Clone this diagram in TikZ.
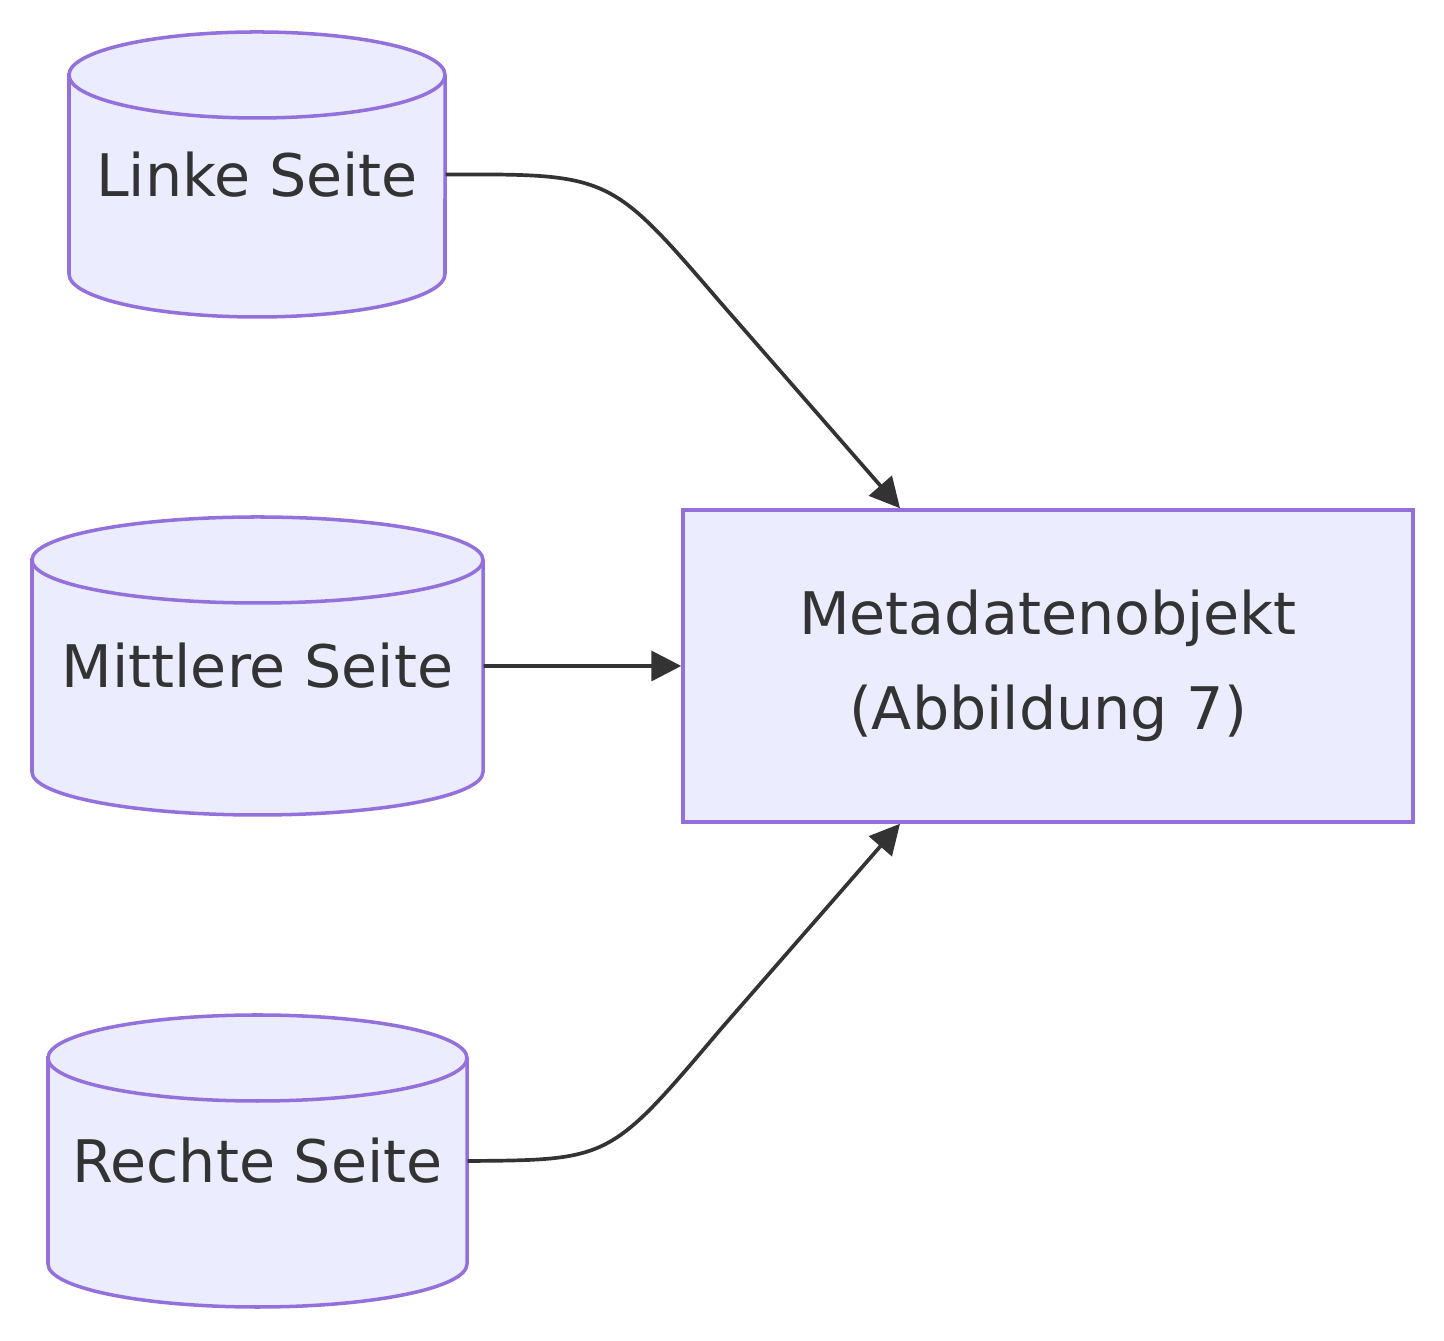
\documentclass[tikz,border=0pt]{standalone}
\usepackage{fontspec}
\setmainfont{DejaVu Sans}
\usetikzlibrary{arrows.meta,calc}
\definecolor{dbfill}{HTML}{ECECFF}
\definecolor{dbline}{HTML}{9370DB}
\definecolor{ink}{HTML}{333333}
\begin{document}
\begin{tikzpicture}[>={Triangle[length=0.3cm,width=0.3cm]},
    txt/.style={text=ink, font=\fontsize{16.7pt}{27pt}\selectfont, align=center},
    pfeil/.style={->, draw=ink, line width=1.05pt}]
    \useasboundingbox (0,0) rectangle (14.44,13.40);
    % Halbachse der Ellipsen
    \def\ry{0.43}

    % --- die drei Seiten als Zylinder ---
    \foreach \n/\xa/\xb/\yo/\yu/\t in {links/0.69/4.45/13.08/10.23/Linke Seite,
        mitte/0.32/4.83/8.23/5.25/Mittlere Seite,
        rechts/0.48/4.67/3.25/0.33/Rechte Seite} {
      \pgfmathsetmacro{\rx}{(\xb-\xa)/2}
      \filldraw[fill=dbfill, draw=dbline, line width=1pt]
        (\xa,\yo-\ry) -- (\xa,\yu+\ry)
        arc[start angle=180, end angle=360, x radius=\rx, y radius=\ry]
        -- (\xb,\yo-\ry)
        arc[start angle=0, end angle=180, x radius=\rx, y radius=\ry] -- cycle;
      \draw[dbline, line width=1pt] (\xa,\yo-\ry)
        arc[start angle=180, end angle=360, x radius=\rx, y radius=\ry];
      \node[txt, inner sep=0pt, minimum width=\xb cm-\xa cm, minimum height=\yo cm-\yu cm]
        (\n) at ({(\xa+\xb)/2},{(\yo+\yu)/2}) {\t};
    }

    % Zielobjekt
    \node[txt, fill=dbfill, draw=dbline, line width=1pt, minimum width=7.30cm,
      minimum height=3.12cm, inner sep=0pt] (meta) at (10.48,6.74)
      {Metadatenobjekt\\(Abbildung 7)};

    % Anschlusspunkte
    \coordinate (oben) at ([xshift=-1.48cm]meta.north);
    \coordinate (unten) at ([xshift=-1.48cm]meta.south);

    % Verbindungen
    \draw[pfeil] (links.east) .. controls (6.1,11.66) .. (7.2,10.38) -- (oben);
    \draw[pfeil] (mitte.east) -- (meta.west);
    \draw[pfeil] (rechts.east) .. controls (6.1,1.80) .. (7.2,3.10) -- (unten);
\end{tikzpicture}
\end{document}
